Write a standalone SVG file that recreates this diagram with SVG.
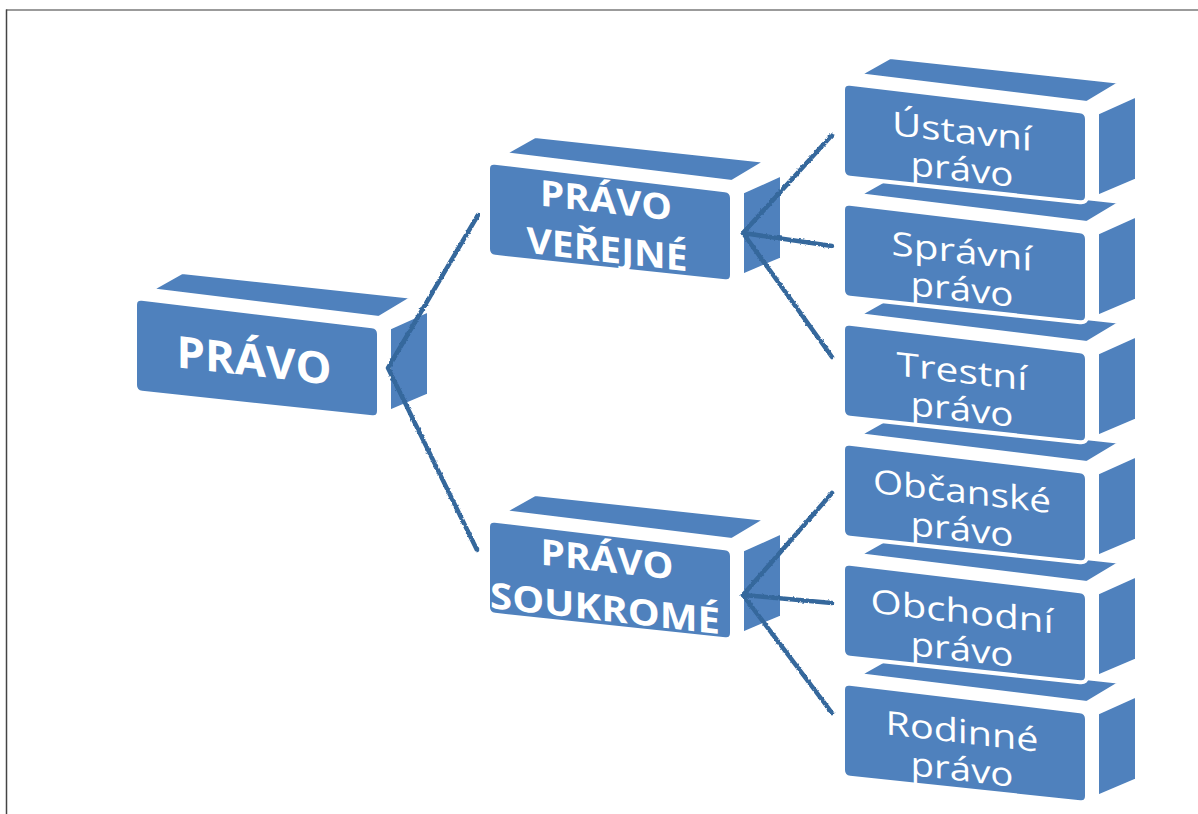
<svg xmlns="http://www.w3.org/2000/svg" xmlns:xlink="http://www.w3.org/1999/xlink" width="1198" height="814" viewBox="0 0 1198 814">
<style>
.face{fill:#4f81bd;stroke:#ffffff;stroke-width:4;stroke-linejoin:round}
.lbl{font-family:"Open Sans","DejaVu Sans",sans-serif;fill:#ffffff;text-anchor:middle}
.b{font-weight:bold}
.conn{fill:none;stroke:#35679c;stroke-width:4.5;stroke-linecap:round;stroke-linejoin:round}
.frame{stroke-width:1.5;fill:none}
</style>
<defs>
<filter id="jag" x="-10%" y="-10%" width="120%" height="120%">
<feTurbulence type="fractalNoise" baseFrequency="0.4" numOctaves="1" seed="3" result="n"/>
<feDisplacementMap in="SourceGraphic" in2="n" scale="3" xChannelSelector="R" yChannelSelector="G"/>
</filter>
<g id="box">
<path class="face" d="M15,-8 L47,-26 L279,-1 L244,20 Z"/>
<path class="face" d="M254,30 L294,12 L294,97 L254,114 Z"/>
<path class="face" d="M0,7 Q0,0 7,0.8 L237,28.2 Q244,29 244,36 L244,113 Q244,120 237,119.2 L7,94.8 Q0,94 0,87 Z"/>
</g>
</defs>
<rect width="1198" height="814" fill="#ffffff"/>
<line class="frame" x1="6" y1="10" x2="1198" y2="10" stroke="#7a7a7a"/>
<line class="frame" x1="6.5" y1="9.5" x2="6.5" y2="814" stroke="#444444"/>

<g id="node-pravo">
<use xlink:href="#box" x="135" y="298"/>
<g transform="translate(254,376) skewY(6.5)"><text class="lbl b" font-size="44" textLength="155" lengthAdjust="spacingAndGlyphs">PRÁVO</text></g>
</g>
<g id="node-verejne">
<use xlink:href="#box" x="488" y="162"/>
<g transform="translate(606,213) skewY(6.5)"><text class="lbl b" font-size="36" textLength="132" lengthAdjust="spacingAndGlyphs">PRÁVO</text></g>
<g transform="translate(607,262) skewY(6.5)"><text class="lbl b" font-size="36" textLength="161" lengthAdjust="spacingAndGlyphs">VEŘEJNÉ</text></g>
</g>
<g id="node-soukrome">
<use xlink:href="#box" x="488" y="520"/>
<g transform="translate(607,572) skewY(6.5)"><text class="lbl b" font-size="36" textLength="133" lengthAdjust="spacingAndGlyphs">PRÁVO</text></g>
<g transform="translate(605,621) skewY(6.5)"><text class="lbl b" font-size="36" textLength="230" lengthAdjust="spacingAndGlyphs">SOUKROMÉ</text></g>
</g>

<g id="node-rodinne">
<use xlink:href="#box" x="843" y="683"/>
<g transform="translate(962,743) skewY(6.5)"><text class="lbl" font-size="33" textLength="153" lengthAdjust="spacingAndGlyphs">Rodinné</text></g>
<g transform="translate(962,781) skewY(6.5)"><text class="lbl" font-size="33" textLength="103" lengthAdjust="spacingAndGlyphs">právo</text></g>
</g>
<g id="node-obchodni">
<use xlink:href="#box" x="843" y="563"/>
<g transform="translate(962,623) skewY(6.5)"><text class="lbl" font-size="33" textLength="183" lengthAdjust="spacingAndGlyphs">Obchodní</text></g>
<g transform="translate(962,661) skewY(6.5)"><text class="lbl" font-size="33" textLength="103" lengthAdjust="spacingAndGlyphs">právo</text></g>
</g>
<g id="node-obcanske">
<use xlink:href="#box" x="843" y="443"/>
<g transform="translate(962,503) skewY(6.5)"><text class="lbl" font-size="33" textLength="178" lengthAdjust="spacingAndGlyphs">Občanské</text></g>
<g transform="translate(962,541) skewY(6.5)"><text class="lbl" font-size="33" textLength="103" lengthAdjust="spacingAndGlyphs">právo</text></g>
</g>
<g id="node-trestni">
<use xlink:href="#box" x="843" y="323"/>
<g transform="translate(962,383) skewY(6.5)"><text class="lbl" font-size="33" textLength="131" lengthAdjust="spacingAndGlyphs">Trestní</text></g>
<g transform="translate(962,421) skewY(6.5)"><text class="lbl" font-size="33" textLength="103" lengthAdjust="spacingAndGlyphs">právo</text></g>
</g>
<g id="node-spravni">
<use xlink:href="#box" x="843" y="203"/>
<g transform="translate(962,263) skewY(6.5)"><text class="lbl" font-size="33" textLength="141" lengthAdjust="spacingAndGlyphs">Správní</text></g>
<g transform="translate(962,301) skewY(6.5)"><text class="lbl" font-size="33" textLength="103" lengthAdjust="spacingAndGlyphs">právo</text></g>
</g>
<g id="node-ustavni">
<use xlink:href="#box" x="843" y="83"/>
<g transform="translate(962,143) skewY(6.5)"><text class="lbl" font-size="33" textLength="140" lengthAdjust="spacingAndGlyphs">Ústavní</text></g>
<g transform="translate(962,181) skewY(6.5)"><text class="lbl" font-size="33" textLength="103" lengthAdjust="spacingAndGlyphs">právo</text></g>
</g>

<g id="connectors" filter="url(#jag)">
<path class="conn" d="M478,215 L388,368 L477,550"/>
<path class="conn" d="M832,135 L743,233 L832,246"/>
<path class="conn" d="M743,233 L832,357"/>
<path class="conn" d="M832,493 L743,595 L832,603"/>
<path class="conn" d="M743,595 L832,713"/>
</g>
</svg>
